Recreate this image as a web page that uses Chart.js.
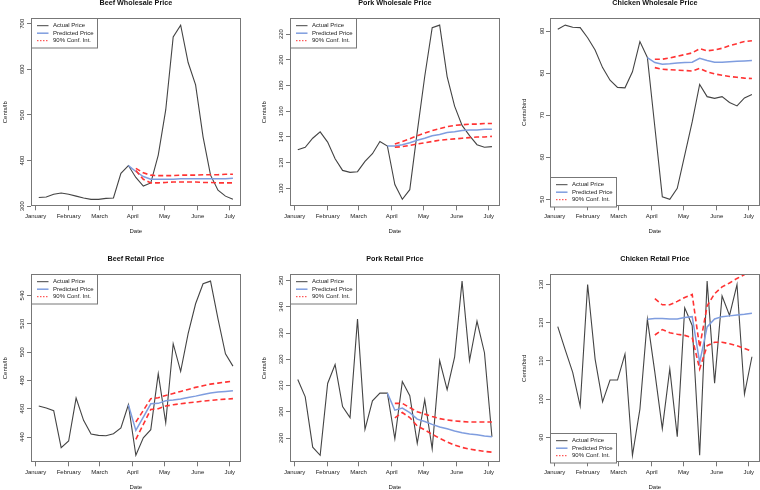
<!DOCTYPE html>
<html>
<head>
<meta charset="utf-8">
<script src="https://cdn.jsdelivr.net/npm/chart.js@4.4.1/dist/chart.umd.min.js"></script>
<style>
  html, body { margin: 0; padding: 0; background: #fff; }
  #page { position: relative; width: 760px; height: 490px; overflow: hidden; background: #fff; }
  #page canvas { position: absolute; }
</style>
</head>
<body>
<div id="page"></div>
<script>
// weekly observations, day of year 2020 (0 = Jan 1)
const weekDay = [3, 10, 17, 24, 31, 38, 45, 52, 59, 66, 73, 80, 87, 94, 101, 108, 115, 122, 129, 136, 143, 150, 157, 164, 171, 178, 185];
const monthDay = [0, 31, 60, 91, 121, 152, 182];
const monthNames = ['January', 'February', 'March', 'April', 'May', 'June', 'July'];
const predStart = 12; // predicted line starts at last actual before forecast
const ciStart = 13;

// Beef wholesale
const bwActual = [319, 320, 326, 329, 326, 322, 318, 315, 315, 317, 318, 372, 389, 363, 344, 351, 412, 511, 671, 697, 615, 566, 452, 368, 335, 322, 315];
const bwPred = [389, 376, 365, 359, 359, 359, 359, 360, 360, 360, 360, 360, 360, 360, 361];
const bwHi = [383, 373, 368, 367, 367, 367, 368, 368, 368, 369, 369, 369, 370, 370];
const bwLo = [378, 359, 351, 351, 352, 353, 353, 353, 353, 352, 352, 351, 351, 351];
const bwTicks = [300, 400, 500, 600, 700];

// Pork wholesale
const pwActual = [130, 132, 139, 144, 136, 123, 114, 112.5, 113, 121, 127, 136.5, 133, 103, 91.5, 99, 144, 187, 225, 227, 187, 164, 149, 141, 134, 132, 132.5];
const pwPred = [133, 133, 134, 135.5, 137.5, 139, 141, 142, 143.5, 144, 145, 145.5, 145.5, 146, 146];
const pwHi = [134.5, 136.5, 138.5, 141, 143, 145, 146.5, 148, 149, 149.5, 150, 150, 150.5, 150.5];
const pwLo = [132, 132.5, 133.5, 134.5, 135.5, 136.5, 137.5, 138, 138.5, 139, 139.5, 140, 140, 140.5];
const pwTicks = [100, 120, 140, 160, 180, 200, 220];

// Chicken wholesale
const cwActual = [90.4, 91.4, 90.9, 90.8, 88.4, 85.5, 81.3, 78.3, 76.6, 76.5, 80.3, 87.5, 83.7, 67.2, 50.6, 50, 52.6, 60.5, 68.4, 77.3, 74.4, 74, 74.4, 73, 72.2, 74.1, 74.9];
const cwPred = [83.7, 82.5, 82.1, 82.2, 82.4, 82.5, 82.6, 83.5, 83.0, 82.6, 82.6, 82.7, 82.8, 82.9, 83.0];
const cwHi = [83.3, 83.3, 83.6, 84.0, 84.4, 84.8, 85.8, 85.3, 85.5, 85.9, 86.5, 87.0, 87.5, 87.7];
const cwLo = [81.3, 80.9, 80.8, 80.7, 80.6, 80.5, 81.1, 80.3, 79.8, 79.5, 79.2, 79.0, 78.8, 78.7];
const cwTicks = [50, 60, 70, 80, 90];

// Beef retail
const brActual = [461.9, 460.5, 458.6, 432.5, 437.2, 467.5, 451.8, 442.1, 441.2, 440.9, 442.4, 446.4, 462.8, 427.1, 439.5, 445.2, 484.7, 450.1, 505.9, 486.4, 513, 534.1, 548.2, 550.1, 523.5, 498.8, 490.1];
const brPred = [462.8, 444.7, 454.1, 463.5, 463.8, 465.6, 466.1, 466.8, 468, 468.9, 470.1, 471.1, 471.8, 472.2, 472.7];
const brHi = [450.6, 458.8, 467.1, 467.8, 469.4, 470.8, 472.2, 473.6, 475.1, 476.2, 477.4, 478.1, 478.8, 479.5];
const brLo = [438.4, 448.9, 459.5, 460, 461.9, 462.8, 463.5, 464.2, 464.7, 465.4, 465.9, 466.4, 466.8, 467.1];
const brTicks = [440, 460, 480, 500, 520, 540];

// Pork retail
const prActual = [312.3, 305.7, 286.5, 283.4, 310.8, 318, 302, 297.8, 335.3, 293.3, 304.2, 307.1, 307.1, 289.7, 311.5, 306.1, 288, 304.6, 285.9, 319.5, 308.4, 320.8, 349.8, 319.5, 334.5, 322.5, 290.5];
const prPred = [307.1, 300.6, 301.4, 299.7, 297.2, 296.3, 295.2, 294.2, 293.5, 292.7, 292, 291.5, 291.2, 290.8, 290.5];
const prHi = [303.2, 303.2, 301.6, 300, 299.1, 298.2, 297.4, 296.9, 296.5, 296.3, 296.1, 296.1, 296.1, 296.1];
const prLo = [297.7, 299.7, 297.8, 294.6, 293.1, 291.4, 289.9, 288.5, 287.3, 286.4, 285.8, 285.3, 284.9, 284.6];
const prTicks = [290, 300, 310, 320, 330, 340, 350];

// Chicken retail
const crActual = [119, 112.9, 107, 98.2, 130, 110.5, 99.3, 105, 105, 111.8, 85.3, 97.4, 120.9, 107, 92.3, 107.9, 90.2, 123.9, 119.3, 85.3, 130.9, 104.2, 127, 121.9, 130, 101.3, 111.1];
const crPred = [120.9, 121.1, 121.1, 121, 121, 121.4, 121.6, 109.6, 118.9, 121, 121.6, 121.8, 122, 122.2, 122.5];
const crHi = [126.3, 124.7, 124.7, 125.6, 126.6, 127.4, 113.6, 124.4, 127.6, 129.4, 130.4, 131.6, 132.6, 133.5];
const crLo = [116.8, 118.2, 117.4, 117, 116.7, 116.1, 107.9, 114, 114.9, 114.9, 114.5, 114, 113.3, 112.5];
const crTicks = [90, 100, 110, 120, 130];

const legendLabels = ['Actual Price', 'Predicted Price', '90% Conf. Int.'];

const FONT = "'Liberation Sans', Arial, Helvetica, sans-serif";
const TXT = '#222';
const AXIS = '#777';
const ACTUAL_COL = '#444';
const PRED_COL = '#7f9ddf';
const CI_COL = '#f33';

Chart.defaults.font.family = FONT;

// R style axis range: data range + 4% each side
function rRange(arr) {
    const lo = Math.min(...arr), hi = Math.max(...arr);
    const e = (hi - lo) * 0.04;
    return [lo - e, hi + e];
}

function pts(days, vals) {
    return vals.map((v, i) => ({ x: days[i], y: v }));
}

// box around plot + R-like legend
const rBox = {
    id: 'rBox',
    afterDraw(chart, args, opts) {
        const ctx = chart.ctx;
        const a = chart.chartArea;
        ctx.save();
        ctx.strokeStyle = AXIS;
        ctx.lineWidth = 1;
        ctx.strokeRect(Math.round(a.left) + 0.5, Math.round(a.top) + 0.5,
            Math.round(a.right - a.left) - 1, Math.round(a.bottom - a.top) - 1);

        const w = 66, h = 29.5;
        const lx = Math.round(a.left) + 0.5;
        const ly = opts.where === 'bottom' ? Math.round(a.bottom - h) + 0.5 : Math.round(a.top) + 0.5;
        ctx.fillStyle = '#fff';
        ctx.fillRect(lx, ly, w, h);
        ctx.strokeRect(lx, ly, w, h);

        const styles = [
            { c: ACTUAL_COL, w: 1, d: [] },
            { c: PRED_COL, w: 1.5, d: [] },
            { c: CI_COL, w: 1, d: [1.5, 1.5] }
        ];
        ctx.font = '6px ' + FONT;
        ctx.textBaseline = 'middle';
        ctx.textAlign = 'left';
        legendLabels.forEach((lab, i) => {
            const yy = ly + 7.2 + i * 7.5;
            const s = styles[i];
            ctx.beginPath();
            ctx.strokeStyle = s.c;
            ctx.lineWidth = s.w;
            ctx.setLineDash(s.d);
            ctx.moveTo(lx + 5.5, yy);
            ctx.lineTo(lx + 17, yy);
            ctx.stroke();
            ctx.setLineDash([]);
            ctx.fillStyle = TXT;
            ctx.fillText(lab, lx + 21.5, yy);
        });
        ctx.restore();
    }
};

function makePanel(left, top, title, unit, actual, pred, lo, hi, yTicks, where) {
    const cv = document.createElement('canvas');
    cv.width = 250;
    cv.height = 260;
    cv.style.left = left + 'px';
    cv.style.top = top + 'px';
    document.getElementById('page').appendChild(cv);

    const xr = rRange(weekDay);
    const yr = rRange(actual);
    const tickFont = { size: 6, family: FONT };

    new Chart(cv.getContext('2d'), {
        type: 'line',
        data: {
            datasets: [
                { data: pts(weekDay, actual), borderColor: ACTUAL_COL, borderWidth: 1.1, order: 3 },
                { data: pts(weekDay.slice(predStart), pred), borderColor: PRED_COL, borderWidth: 1.5, order: 2 },
                { data: pts(weekDay.slice(ciStart), hi), borderColor: CI_COL, borderWidth: 1.6, borderDash: [5, 3], order: 1 },
                { data: pts(weekDay.slice(ciStart), lo), borderColor: CI_COL, borderWidth: 1.6, borderDash: [5, 3], order: 1 }
            ]
        },
        options: {
            responsive: false,
            animation: false,
            devicePixelRatio: 1,
            layout: { padding: { left: 0, right: 9.3, top: 0, bottom: 12.7 } },
            elements: { point: { radius: 0 }, line: { tension: 0, fill: false } },
            plugins: {
                legend: { display: false },
                tooltip: { enabled: false },
                title: {
                    display: true,
                    text: title,
                    fullSize: false,
                    color: '#111',
                    font: { size: 7.2, weight: 'bold', family: FONT },
                    padding: { top: 9.5, bottom: 11 }
                },
                rBox: { where: where }
            },
            scales: {
                x: {
                    type: 'linear',
                    min: xr[0],
                    max: xr[1],
                    afterBuildTicks: axis => { axis.ticks = monthDay.map(v => ({ value: v })); },
                    afterFit: s => { s.height = 30; },
                    ticks: {
                        callback: v => monthNames[monthDay.indexOf(v)],
                        autoSkip: false, maxRotation: 0, minRotation: 0,
                        font: tickFont, color: TXT, padding: 2.9
                    },
                    grid: { drawOnChartArea: false, drawTicks: true, tickLength: 4, color: AXIS },
                    border: { display: false },
                    title: { display: true, text: 'Date', color: TXT, font: tickFont, padding: { top: 0, bottom: 1.7 } }
                },
                y: {
                    type: 'linear',
                    min: yr[0],
                    max: yr[1],
                    afterBuildTicks: axis => { axis.ticks = yTicks.map(v => ({ value: v })); },
                    afterFit: s => { s.width = 31; },
                    ticks: {
                        autoSkip: false, minRotation: 90, maxRotation: 90, crossAlign: 'center',
                        font: tickFont, color: TXT, padding: 0
                    },
                    grid: { drawOnChartArea: false, drawTicks: true, tickLength: 4, color: AXIS },
                    border: { display: false },
                    title: { display: true, text: unit, color: TXT, font: tickFont, padding: { top: 1.4, bottom: 0 } }
                }
            }
        },
        plugins: [rBox]
    });
}

const colLeft = [0, 259, 519];
const rowTop = [-11, 245];

makePanel(colLeft[0], rowTop[0], 'Beef Wholesale Price', 'Cents/lb', bwActual, bwPred, bwLo, bwHi, bwTicks, 'top');
makePanel(colLeft[1], rowTop[0], 'Pork Wholesale Price', 'Cents/lb', pwActual, pwPred, pwLo, pwHi, pwTicks, 'top');
makePanel(colLeft[2], rowTop[0], 'Chicken Wholesale Price', 'Cents/bird', cwActual, cwPred, cwLo, cwHi, cwTicks, 'bottom');
makePanel(colLeft[0], rowTop[1], 'Beef Retail Price', 'Cents/lb', brActual, brPred, brLo, brHi, brTicks, 'top');
makePanel(colLeft[1], rowTop[1], 'Pork Retail Price', 'Cents/lb', prActual, prPred, prLo, prHi, prTicks, 'top');
makePanel(colLeft[2], rowTop[1], 'Chicken Retail Price', 'Cents/bird', crActual, crPred, crLo, crHi, crTicks, 'bottom');
</script>
</body>
</html>
